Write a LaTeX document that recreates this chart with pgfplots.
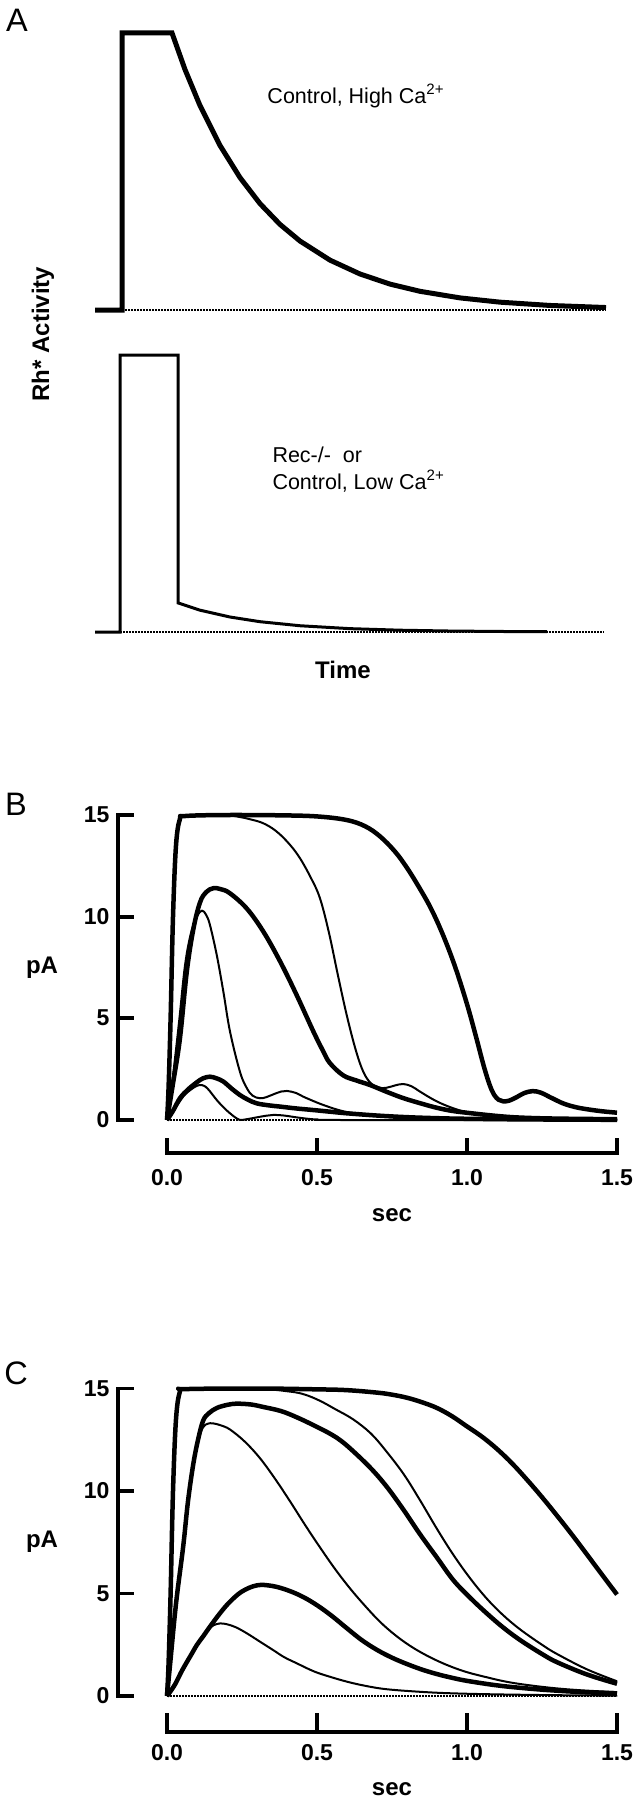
\documentclass[border=0pt]{standalone}
\usepackage{fontspec}
\setmainfont{Liberation Sans}
\usepackage{pgfplots}
\usepackage{pgfplotstable}
\pgfplotsset{compat=1.18}

% ---------- Panel A ----------
\pgfplotstableread{
x y
95 0
122 0
122 1
172 1
185 0.868
200 0.738
220 0.594
240 0.478
260 0.384
280 0.309
300 0.249
330 0.180
360 0.130
390 0.0935
420 0.0675
460 0.0437
500 0.0283
550 0.0164
606 0.0089
}\Atop
\pgfplotstableread{
x y
95 0
120 0
120 1
178 1
178 0.105
200 0.0788
230 0.0541
260 0.0372
300 0.0226
350 0.0121
400 0.0065
450 0.0035
500 0.0019
547 0.001
}\Abot

% ---------- Panel B ----------
\pgfplotstableread{
x y
0 0
0.005 1.5
0.012 5
0.02 10
0.03 13.5
0.043 14.8
0.06 14.95
0.2 15
0.4 14.98
0.51 14.92
0.6 14.75
0.66 14.45
0.71 13.95
0.76 13.2
0.8 12.4
0.84 11.45
0.88 10.4
0.92 9.1
0.96 7.55
1.0 5.7
1.03 4.1
1.055 2.7
1.075 1.75
1.09 1.25
1.105 1.0
1.12 0.92
1.14 0.95
1.165 1.12
1.19 1.32
1.218 1.42
1.245 1.35
1.28 1.1
1.32 0.82
1.36 0.64
1.4 0.53
1.45 0.43
1.5 0.36
}\Bone
\pgfplotstableread{
x y
0 0
0.005 1.5
0.012 5
0.02 10
0.03 13.5
0.043 14.8
0.06 14.95
0.2 14.97
0.243 14.9
0.28 14.78
0.32 14.6
0.36 14.25
0.4 13.7
0.44 12.95
0.48 11.9
0.51 10.9
0.54 9.2
0.57 7.1
0.6 5.1
0.63 3.4
0.655 2.35
0.68 1.8
0.705 1.6
0.73 1.58
0.76 1.7
0.787 1.77
0.815 1.66
0.843 1.4
0.88 1.07
0.91 0.84
0.95 0.6
0.99 0.42
1.05 0.26
1.1 0.17
1.18 0.1
1.3 0.06
1.5 0.03
}\Btwo
\pgfplotstableread{
x y
0 0
0.02 1.8
0.043 4.0
0.066 7.3
0.088 9.4
0.11 10.7
0.13 11.2
0.154 11.4
0.18 11.35
0.21 11.15
0.266 10.4
0.321 9.27
0.377 7.8
0.432 6.15
0.488 4.35
0.52 3.4
0.543 2.8
0.587 2.2
0.63 1.95
0.677 1.72
0.73 1.4
0.787 1.08
0.85 0.8
0.9 0.6
0.95 0.45
1.01 0.34
1.1 0.2
1.177 0.12
1.3 0.07
1.5 0.04
}\Bthree
\pgfplotstableread{
x y
0 0
0.02 2.2
0.04 4.8
0.06 7.6
0.08 9.2
0.1 10.0
0.116 10.3
0.13 10.1
0.143 9.6
0.166 8.1
0.188 6.3
0.21 4.35
0.243 2.38
0.265 1.6
0.285 1.2
0.31 1.07
0.33 1.12
0.354 1.26
0.38 1.4
0.4 1.43
0.43 1.33
0.454 1.15
0.49 0.92
0.521 0.74
0.57 0.5
0.62 0.34
0.733 0.16
0.85 0.08
1.0 0.04
1.5 0.01
}\Bfour
\pgfplotstableread{
x y
0 0
0.02 0.45
0.043 1.07
0.07 1.5
0.099 1.85
0.12 2.05
0.143 2.13
0.165 2.05
0.188 1.89
0.215 1.55
0.243 1.23
0.27 1.0
0.299 0.82
0.34 0.72
0.377 0.66
0.43 0.57
0.488 0.49
0.543 0.41
0.6 0.33
0.7 0.22
0.8 0.14
0.9 0.09
1.0 0.06
1.2 0.03
1.5 0.01
}\Bfive
\pgfplotstableread{
x y
0 0
0.02 0.4
0.054 1.15
0.08 1.5
0.1 1.68
0.116 1.72
0.135 1.55
0.166 0.98
0.19 0.6
0.21 0.33
0.23 0.1
0.243 0.0
0.27 0.05
0.299 0.13
0.33 0.21
0.354 0.25
0.39 0.22
0.432 0.13
0.47 0.06
0.5 0.03
0.6 0.0
1.5 0.0
}\Bsix

% ---------- Panel C ----------
\pgfplotstableread{
x y
0 0
0.005 1.5
0.012 5
0.02 10
0.03 13.5
0.043 14.85
0.06 14.97
0.3 15
0.5 14.96
0.6 14.92
0.7 14.8
0.75 14.7
0.8 14.55
0.85 14.33
0.9 14.05
0.95 13.65
1.0 13.15
1.05 12.65
1.1 12.05
1.15 11.35
1.2 10.55
1.25 9.7
1.3 8.8
1.35 7.87
1.4 6.9
1.45 5.92
1.5 4.95
}\Cone
\pgfplotstableread{
x y
0 0
0.005 1.5
0.012 5
0.02 10
0.03 13.5
0.043 14.85
0.06 14.97
0.3 14.98
0.41 14.85
0.46 14.7
0.51 14.4
0.56 14.0
0.62 13.5
0.68 12.8
0.733 11.9
0.79 10.8
0.843 9.56
0.9 8.15
0.954 6.9
1.01 5.75
1.066 4.75
1.12 3.95
1.177 3.25
1.25 2.5
1.3 2.05
1.4 1.3
1.5 0.72
}\Ctwo
\pgfplotstableread{
x y
0 0
0.01 1.5
0.03 4.5
0.054 7.3
0.07 9.5
0.088 11.35
0.105 12.6
0.121 13.45
0.14 13.8
0.166 14.05
0.2 14.2
0.232 14.26
0.28 14.22
0.321 14.1
0.38 13.9
0.432 13.6
0.49 13.2
0.543 12.8
0.58 12.45
0.62 11.95
0.68 11.1
0.733 10.2
0.79 9.05
0.843 7.9
0.9 6.75
0.954 5.66
1.01 4.8
1.066 4.03
1.12 3.35
1.177 2.73
1.25 2.05
1.3 1.65
1.4 1.05
1.5 0.6
}\Cthree
\pgfplotstableread{
x y
0 0
0.01 1.5
0.03 4.5
0.054 7.3
0.07 9.4
0.088 11.2
0.105 12.5
0.12 13.1
0.135 13.28
0.154 13.3
0.18 13.2
0.21 13.0
0.26 12.4
0.31 11.6
0.36 10.6
0.41 9.5
0.46 8.35
0.51 7.25
0.56 6.2
0.61 5.25
0.66 4.4
0.71 3.62
0.76 2.98
0.81 2.45
0.86 2.02
0.91 1.66
0.96 1.36
1.01 1.12
1.07 0.9
1.12 0.73
1.18 0.58
1.28 0.4
1.38 0.28
1.5 0.19
}\Cfour
\pgfplotstableread{
x y
0 0
0.015 0.3
0.03 0.65
0.045 1.1
0.06 1.5
0.08 2.0
0.1 2.5
0.12 2.9
0.143 3.38
0.18 4.1
0.21 4.6
0.25 5.1
0.3 5.4
0.35 5.37
0.4 5.17
0.45 4.86
0.5 4.43
0.55 3.9
0.6 3.3
0.65 2.72
0.7 2.25
0.75 1.87
0.8 1.56
0.85 1.29
0.9 1.07
0.95 0.89
1.0 0.74
1.1 0.52
1.2 0.37
1.3 0.26
1.4 0.18
1.5 0.13
}\Cfive
\pgfplotstableread{
x y
0 0
0.015 0.3
0.03 0.65
0.045 1.1
0.06 1.5
0.08 2.0
0.1 2.5
0.12 2.95
0.134 3.2
0.155 3.45
0.177 3.54
0.2 3.5
0.23 3.35
0.266 3.06
0.31 2.65
0.354 2.24
0.39 1.9
0.432 1.6
0.49 1.2
0.543 0.94
0.6 0.7
0.66 0.5
0.733 0.33
0.85 0.2
0.954 0.13
1.1 0.08
1.3 0.04
1.5 0.02
}\Csix

\newcommand{\lblfont}{\fontsize{9.6}{11}\selectfont\bfseries}
\newcommand{\tickfont}{\fontsize{9.2}{11}\selectfont\bfseries}
\newcommand{\annfont}{\fontsize{8.6}{10}\selectfont}
\newcommand{\letfont}{\fontsize{13}{15}\selectfont}

\pgfplotsset{
  panel/.style={scale only axis, width=254pt, axis lines=none, clip=false,
    anchor=south west, xtick=\empty, ytick=\empty},
  thick curve/.style={black, line width=1.8pt, smooth, tension=0.6, line join=round},
  thin curve/.style={black, line width=0.8pt, smooth, tension=0.6, line join=round},
  base dots/.style={black, line width=0.5pt, dash pattern=on 0.6pt off 0.6pt},
}

\begin{document}
\begin{tikzpicture}
\path[use as bounding box] (0pt,0pt) rectangle (254pt,-720pt);

% ----- Panel A, top trace -----
\begin{axis}[panel, at={(0pt,-128pt)}, height=128pt,
  xmin=0, xmax=635, ymin=-0.0361, ymax=1.1191]
\addplot[base dots] coordinates {(122,0) (606,0)};
\addplot[black, line width=2pt, line join=miter, line cap=butt] table {\Atop};
\end{axis}

% ----- Panel A, bottom trace -----
\begin{axis}[panel, at={(0pt,-288pt)}, height=160pt,
  xmin=0, xmax=635, ymin=-0.3177, ymax=1.1264]
\addplot[base dots] coordinates {(120,0) (604,0)};
\addplot[black, line width=1.2pt, line join=miter, line cap=butt] table {\Abot};
\end{axis}

% ----- Panel B -----
\begin{axis}[panel, at={(0pt,-496pt)}, height=192pt,
  xmin=-0.55667, xmax=1.56, ymin=-5.9016, ymax=17.705]
\draw[line width=1.5pt, line cap=rect] (axis cs:-0.16333,0) -- (axis cs:-0.16333,15);
\draw[line width=1.5pt] (axis cs:-0.16333,0) -- (axis cs:-0.11,0);
\draw[line width=1.5pt] (axis cs:-0.16333,5) -- (axis cs:-0.11,5);
\draw[line width=1.5pt] (axis cs:-0.16333,10) -- (axis cs:-0.11,10);
\draw[line width=1.5pt] (axis cs:-0.16333,15) -- (axis cs:-0.11,15);
\draw[line width=1.5pt, line cap=rect] (axis cs:0,-1.623) -- (axis cs:1.5,-1.623);
\draw[line width=1.5pt] (axis cs:0,-1.623) -- (axis cs:0,-0.885);
\draw[line width=1.5pt] (axis cs:0.5,-1.623) -- (axis cs:0.5,-0.885);
\draw[line width=1.5pt] (axis cs:1,-1.623) -- (axis cs:1,-0.885);
\draw[line width=1.5pt] (axis cs:1.5,-1.623) -- (axis cs:1.5,-0.885);
\addplot[base dots] coordinates {(0,0) (1.5,0)};
\addplot[thin curve] table {\Bsix};
\addplot[thick curve] table {\Bfive};
\addplot[thin curve] table {\Bfour};
\addplot[thick curve] table {\Bthree};
\addplot[thin curve] table {\Btwo};
\addplot[thick curve] table {\Bone};
\end{axis}

% ----- Panel C -----
\begin{axis}[panel, at={(0pt,-720pt)}, height=184pt,
  xmin=-0.55667, xmax=1.56, ymin=-5.0732, ymax=17.366]
\draw[line width=1.5pt, line cap=rect] (axis cs:-0.16333,0) -- (axis cs:-0.16333,15);
\draw[line width=1.5pt] (axis cs:-0.16333,0) -- (axis cs:-0.11,0);
\draw[line width=1.5pt] (axis cs:-0.16333,5) -- (axis cs:-0.11,5);
\draw[line width=1.5pt] (axis cs:-0.16333,10) -- (axis cs:-0.11,10);
\draw[line width=1.5pt] (axis cs:-0.16333,15) -- (axis cs:-0.11,15);
\draw[line width=1.5pt, line cap=rect] (axis cs:0,-1.756) -- (axis cs:1.5,-1.756);
\draw[line width=1.5pt] (axis cs:0,-1.756) -- (axis cs:0,-0.829);
\draw[line width=1.5pt] (axis cs:0.5,-1.756) -- (axis cs:0.5,-0.829);
\draw[line width=1.5pt] (axis cs:1,-1.756) -- (axis cs:1,-0.829);
\draw[line width=1.5pt] (axis cs:1.5,-1.756) -- (axis cs:1.5,-0.829);
\addplot[base dots] coordinates {(0,0) (1.5,0)};
\addplot[thin curve] table {\Csix};
\addplot[thick curve] table {\Cfive};
\addplot[thin curve] table {\Cfour};
\addplot[thick curve] table {\Cthree};
\addplot[thin curve] table {\Ctwo};
\addplot[thick curve] table {\Cone};
\end{axis}

% ----- Text (pixel coordinates of the 635 x 1800 reference) -----
\begin{scope}[x=0.4pt, y=-0.4pt, every node/.style={inner sep=0pt}]
\node at (17,20) {\letfont A};
\node[rotate=90] at (43,334) {\lblfont Rh* Activity};
\node[anchor=base west] at (267,104) {\annfont Control, High Ca\textsuperscript{2+}};
\node[anchor=base west] at (272,463) {\annfont Rec-/-\ \ or};
\node[anchor=base west] at (272,490) {\annfont Control, Low Ca\textsuperscript{2+}};
\node at (343,670) {\lblfont Time};

\node at (16,804) {\letfont B};
\node at (42,968) {\lblfont pA};
\node[anchor=east] at (110,1120) {\tickfont 0};
\node[anchor=east] at (110,1018) {\tickfont 5};
\node[anchor=east] at (110,917) {\tickfont 10};
\node[anchor=east] at (110,815) {\tickfont 15};
\node at (167,1178) {\tickfont 0.0};
\node at (317,1178) {\tickfont 0.5};
\node at (467,1178) {\tickfont 1.0};
\node at (617,1178) {\tickfont 1.5};
\node at (392,1215) {\lblfont sec};

\node at (16,1373) {\letfont C};
\node at (42,1542) {\lblfont pA};
\node[anchor=east] at (110,1696) {\tickfont 0};
\node[anchor=east] at (110,1593.5) {\tickfont 5};
\node[anchor=east] at (110,1491) {\tickfont 10};
\node[anchor=east] at (110,1388.5) {\tickfont 15};
\node at (167,1753) {\tickfont 0.0};
\node at (317,1753) {\tickfont 0.5};
\node at (467,1753) {\tickfont 1.0};
\node at (617,1753) {\tickfont 1.5};
\node at (392,1789) {\lblfont sec};
\end{scope}
\end{tikzpicture}
\end{document}
